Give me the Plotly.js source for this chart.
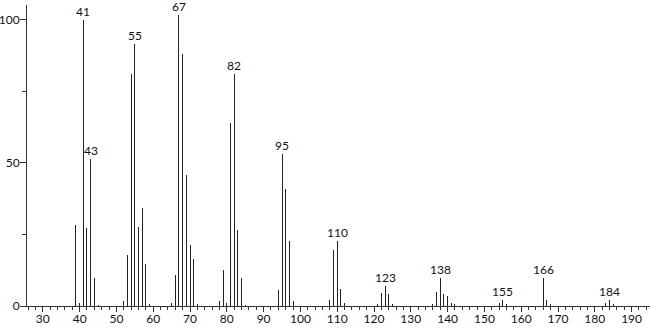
<!DOCTYPE html>
<html>
<head>
<meta charset="utf-8">
<script src="https://cdn.plot.ly/plotly-3.0.1.min.js"></script>
<style>html,body{margin:0;padding:0;background:#fff;}#chart{width:650px;height:328px;}</style>
</head>
<body>
<div id="chart"></div>
<script>
// m/z values and relative intensities
const mz = [39, 40, 41, 42, 43, 44, 45,
  52, 53, 54, 55, 56, 57, 58, 59,
  65, 66, 67, 68, 69, 70, 71, 72,
  78, 79, 80, 81, 82, 83, 84, 85,
  94, 95, 96, 97, 98,
  108, 109, 110, 111, 112,
  121, 122, 123, 124, 125,
  136, 137, 138, 139, 140, 141, 142,
  154, 155, 156,
  166, 167, 168,
  183, 184, 185];
const intensity = [28.4, 1.0, 99.6, 27.2, 51.3, 9.8, 0.5,
  1.7, 17.8, 80.8, 91.3, 27.4, 34.2, 14.7, 0.7,
  1.2, 10.8, 101.4, 88.0, 45.6, 21.4, 16.5, 0.7,
  1.6, 12.7, 0.9, 63.9, 81.0, 26.4, 9.8, 0.5,
  5.5, 52.9, 40.7, 22.6, 1.7,
  2.2, 19.4, 22.6, 5.8, 1.2,
  0.8, 4.7, 6.9, 4.1, 0.8,
  0.8, 4.9, 9.6, 4.1, 3.4, 1.1, 0.6,
  1.0, 2.0, 0.8,
  9.6, 2.0, 0.8,
  1.0, 2.0, 0.8];
// peaks that carry a text label
const labelledMz = [41, 43, 55, 67, 82, 95, 110, 123, 138, 155, 166, 184];
// axis ticks
const xTickVals = [30, 40, 50, 60, 70, 80, 90, 100, 110, 120, 130, 140, 150, 160, 170, 180, 190];
const yTickVals = [0, 50, 100];

const font = "Lato, 'Noto Sans', sans-serif";

const annotations = labelledMz.map(m => ({
  x: m,
  y: intensity[mz.indexOf(m)],
  text: String(m),
  showarrow: false,
  yanchor: 'bottom',
  xanchor: 'center',
  borderpad: 0,
  yshift: 0,
  font: {family: font, size: 12, color: '#111'}
}));

const trace = {
  type: 'bar',
  x: mz,
  y: intensity,
  width: 0.27,
  marker: {color: '#222', line: {width: 0}},
  hoverinfo: 'x+y'
};

const layout = {
  width: 650,
  height: 328,
  margin: {l: 27, r: 0, t: 5, b: 22, pad: 0},
  paper_bgcolor: '#fff',
  plot_bgcolor: '#fff',
  showlegend: false,
  bargap: 0,
  xaxis: {
    range: [25.7, 195.0],
    tickvals: xTickVals,
    ticktext: xTickVals.map(String),
    ticks: 'outside',
    ticklen: 5,
    tickwidth: 1,
    tickcolor: '#333',
    ticklabelstandoff: -3,
    minor: {dtick: 2, tick0: 0, ticks: 'outside', ticklen: 3, tickcolor: '#333', showgrid: false},
    showline: true,
    linecolor: '#333',
    linewidth: 1,
    showgrid: false,
    zeroline: false,
    tickfont: {family: font, size: 12, color: '#111'}
  },
  yaxis: {
    range: [0, 105],
    tickvals: yTickVals,
    ticks: 'outside',
    ticklen: 6,
    tickwidth: 1,
    tickcolor: '#333',
    ticklabelstandoff: -2,
    minor: {tickvals: [25, 75], ticks: 'outside', ticklen: 4, tickcolor: '#333', showgrid: false},
    showline: true,
    linecolor: '#333',
    linewidth: 1,
    showgrid: false,
    zeroline: false,
    tickfont: {family: font, size: 12, color: '#111'}
  },
  annotations: annotations
};

Plotly.newPlot('chart', [trace], layout, {displayModeBar: false, staticPlot: true});
</script>
</body>
</html>
